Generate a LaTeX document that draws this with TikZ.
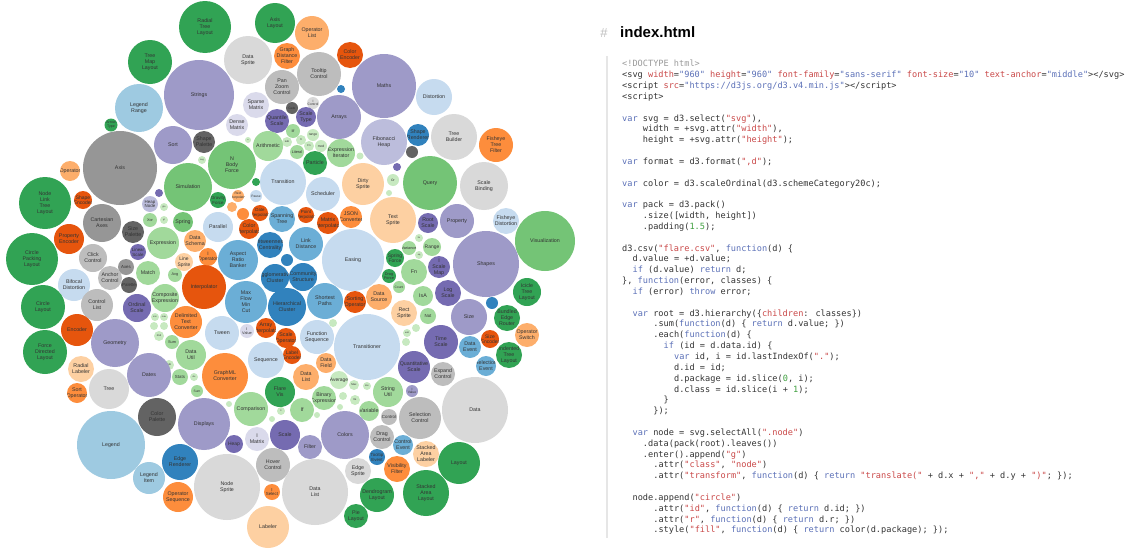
\documentclass[tikz,border=0pt]{standalone}
\usepackage{fontspec}
\setmainfont{Liberation Sans}
\newfontfamily\codefamily{DejaVu Sans Mono}

% d3 category20c palette
\definecolor{blu1}{HTML}{3182BD}
\definecolor{blu2}{HTML}{6BAED6}
\definecolor{blu3}{HTML}{9ECAE1}
\definecolor{blu4}{HTML}{C6DBEF}
\definecolor{org1}{HTML}{E6550D}
\definecolor{org2}{HTML}{FD8D3C}
\definecolor{org3}{HTML}{FDAE6B}
\definecolor{org4}{HTML}{FDD0A2}
\definecolor{grn1}{HTML}{31A354}
\definecolor{grn2}{HTML}{74C476}
\definecolor{grn3}{HTML}{A1D99B}
\definecolor{grn4}{HTML}{C7E9C0}
\definecolor{pur1}{HTML}{756BB1}
\definecolor{pur2}{HTML}{9E9AC8}
\definecolor{pur3}{HTML}{BCBDDC}
\definecolor{pur4}{HTML}{DADAEB}
\definecolor{gry1}{HTML}{636363}
\definecolor{gry2}{HTML}{969696}
\definecolor{gry3}{HTML}{BDBDBD}
\definecolor{gry4}{HTML}{D9D9D9}
\definecolor{labeltext}{HTML}{333333}
\definecolor{codetext}{HTML}{333333}
\definecolor{kwcol}{HTML}{5B70B7}
\definecolor{strcol}{HTML}{C94848}
\definecolor{numcol}{HTML}{3F9F3F}
\definecolor{gracol}{HTML}{999999}
\definecolor{rulecol}{HTML}{E6E6E6}

\newcommand\codesize{\codefamily\fontsize{8.6}{10.8}\selectfont}
\newcommand\cdkw[1]{\textcolor{kwcol}{#1}}
\newcommand\cdst[1]{\textcolor{strcol}{#1}}
\newcommand\cdnm[1]{\textcolor{numcol}{#1}}
\newcommand\cdav[1]{\textcolor{kwcol}{#1}}
\newcommand\cdgr[1]{\textcolor{gracol}{#1}}

\tikzset{
  bub/.style={circle,inner sep=0pt,outer sep=0pt,draw=none},
  lbl/.style={inner sep=0pt,align=center,text=labeltext,
              font=\fontsize{\lblsz pt}{\lblsk pt}\selectfont},
  codeline/.style={anchor=base west,inner sep=0pt,text=codetext,font=\codesize},
}

% one packed circle: name, x, y, radius, fill, label (clipped to the circle,
% smaller type in the smallest circles)
\newcommand\bub[6]{%
  \pgfmathsetmacro\lblsz{min(5.3,0.55*#4)}%
  \pgfmathsetmacro\lblsk{1.12*\lblsz}%
  \node[bub,fill=#5,minimum size={2*#4},
        path picture={\node[lbl] (#1-t) at (path picture bounding box.center) {#6};}]
        (#1) at (#2,#3) {};}
% one line of the listing: name, indent (characters), line number, content
\newcommand\codeln[4]{\node[codeline] (#1) at ({622+#2*5.19},{66.8+#3*10.84}) {#4};}

\begin{document}
\begin{tikzpicture}[x=1pt,y=-1pt]
\useasboundingbox (0,0) rectangle (1135,549);

% ---------------- bubble chart ----------------
\bub{radial}{205}{27}{26}{grn1}{Radial\\Tree\\Layout}
\bub{treemap}{150}{62}{22}{grn1}{Tree\\Map\\Layout}
\bub{axislayout}{275}{23}{20}{grn1}{Axis\\Layout}
\bub{oplist}{312}{33}{17}{org3}{Operator\\List}
\bub{datasprite}{248}{60}{24}{gry4}{Data\\Sprite}
\bub{graphdist}{287}{56}{13}{org2}{Graph\\Distance\\Filter}
\bub{colorenc}{350}{55}{13}{org1}{Color\\Encoder}
\bub{tooltipctl}{319}{74}{22}{gry3}{Tooltip\\Control}
\bub{maths}{384}{86}{32}{pur2}{Maths}
\bub{distortion}{434}{97}{18}{blu4}{Distortion}
\bub{strings}{199}{95}{35}{pur2}{Strings}
\bub{legendrange}{139}{108}{24}{blu3}{Legend\\Range}
\bub{panzoom}{282}{87}{17}{gry3}{Pan\\Zoom\\Control}
\bub{sparse}{256}{105}{13}{pur4}{Sparse\\Matrix}
\bub{dense}{237}{125}{11}{pur4}{Dense\\Matrix}
\bub{sm01}{341}{89}{4}{blu1}{}
\bub{icontrol}{313}{103}{6}{gry4}{I\\Control}
\bub{sm02}{292}{108}{6}{gry1}{Gate}
\bub{arrays}{339}{117}{22}{pur2}{Arrays}
\bub{quantile}{277}{121}{12}{pur1}{Quantile\\Scale}
\bub{scaletype}{306}{117}{10}{pur1}{Scale\\Type}
\bub{fibheap}{384}{142}{23}{pur3}{Fibonacci\\Heap}
\bub{shaperend}{418}{135}{11}{blu1}{Shape\\Renderer}
\bub{treebuilder}{454}{137}{23}{gry4}{Tree\\Builder}
\bub{fisheyetree}{496}{145}{17}{org2}{Fisheye\\Tree\\Filter}
\bub{sm03}{412}{152}{6}{gry1}{}
\bub{sm04}{397}{167}{4}{pur1}{}
\bub{exprit}{341}{153}{14}{grn3}{Expression\\Iterator}
\bub{particle}{315}{163}{12}{grn1}{Particle}
\bub{literal}{297}{152}{7}{grn3}{Literal}
\bub{iff}{293}{131}{7}{grn3}{Iif}
\bub{range2}{313}{135}{6}{grn4}{range}
\bub{sub1}{287}{142}{5}{grn4}{sub}
\bub{lt1}{301}{140}{5}{grn4}{lt}
\bub{fn1}{309}{146}{5}{grn4}{Fn}
\bub{mod1}{321}{146}{6}{grn4}{mod}
\bub{sm05}{360}{156}{3.5}{grn4}{}
\bub{arith}{268}{146}{15}{grn3}{Arithmetic}
\bub{nbody}{232}{165}{24}{grn2}{N\\Body\\Force}
\bub{axis}{120}{168}{37}{gry2}{Axis}
\bub{sort}{173}{145}{19}{pur2}{Sort}
\bub{shapepal}{204}{142}{11}{gry1}{Shape\\Palette}
\bub{arrowtype}{111}{125}{6.5}{grn1}{Arrow\\Type}
\bub{operator}{70}{171}{10}{org3}{Operator}
\bub{neg}{202}{160}{4}{grn4}{neg}
\bub{or1}{248}{140}{3}{grn4}{or}
\bub{simulation}{188}{187}{24}{grn2}{Simulation}
\bub{transition}{283}{182}{23}{blu4}{Transition}
\bub{scheduler}{323}{194}{17}{blu4}{Scheduler}
\bub{dirty}{363}{184}{21}{org4}{Dirty\\Sprite}
\bub{or2}{393}{180}{6}{grn4}{Or}
\bub{sm06}{389}{193}{3}{grn4}{}
\bub{query}{430}{183}{27}{grn2}{Query}
\bub{scalebinding}{484}{186}{24}{gry4}{Scale\\Binding}
\bub{textsprite}{393}{220}{23}{org4}{Text\\Sprite}
\bub{rootscale}{428}{223}{10}{pur1}{Root\\Scale}
\bub{property}{457}{221}{17}{pur2}{Property}
\bub{fisheyedist}{506}{221}{13}{blu4}{Fisheye\\Distortion}
\bub{visualization}{545}{241}{30}{grn2}{Visualization}
\bub{jsonconv}{351}{217}{11}{org2}{JSON\\Converter}
\bub{matrixinterp}{328}{223}{11}{org1}{Matrix\\Interpolator}
\bub{pointinterp}{306}{215}{8}{org1}{Point\\Interpolator}
\bub{spanning}{282}{219}{13}{blu2}{Spanning\\Tree}
\bub{colorinterp}{249}{229}{10}{org1}{Color\\Interpolator}
\bub{dateinterp}{260}{213}{8}{org1}{Date\\Interpolator}
\bub{sm07}{243}{214}{6}{org2}{}
\bub{gravity}{218}{200}{8}{grn1}{Gravity\\Force}
\bub{rectinterp}{238}{196}{6}{org3}{Rect\\Interpolator}
\bub{sm08}{232}{207}{5}{org3}{}
\bub{pause}{256}{196}{6}{blu4}{Pause}
\bub{sm09}{256}{182}{4}{grn1}{}
\bub{heapnode}{150}{204}{8}{pur3}{Heap\\Node}
\bub{sm10}{159}{193}{4}{pur1}{}
\bub{gte}{164}{207}{4}{grn4}{gte}
\bub{xor}{150}{220}{7}{grn3}{Xor}
\bub{gt}{164}{220}{4}{grn4}{gt}
\bub{spring}{183}{222}{10}{grn2}{Spring}
\bub{expression}{163}{243}{16}{grn3}{Expression}
\bub{dataschema}{195}{241}{11}{org3}{Data\\Schema}
\bub{ioperator}{208}{257}{9}{org2}{I\\Operator}
\bub{linesprite}{184}{262}{9}{org4}{Line\\Sprite}
\bub{match}{148}{273}{12}{grn3}{Match}
\bub{avg}{175}{275}{7}{grn3}{Avg}
\bub{parallel}{218}{227}{15}{blu4}{Parallel}
\bub{aspect}{238}{260}{20}{blu2}{Aspect\\Ratio\\Banker}
\bub{betweenness}{270}{245}{13}{blu1}{Betweenness\\Centrality}
\bub{linkdist}{306}{244}{17}{blu2}{Link\\Distance}
\bub{easing}{353}{260}{31}{blu4}{Easing}
\bub{sm11}{287}{260}{6}{blu1}{}
\bub{aggl}{275}{278}{14}{blu1}{Agglomerative\\Cluster}
\bub{community}{303}{277}{14}{blu1}{Community\\Structure}
\bub{springforce}{395}{258}{9}{grn1}{Spring\\Force}
\bub{dragforce}{389}{276}{7}{grn1}{Drag\\Force}
\bub{variance}{409}{248}{7}{grn3}{Variance}
\bub{range}{432}{247}{9}{grn3}{Range}
\bub{lte}{419}{238}{4}{grn4}{lte}
\bub{eq}{419}{255}{4}{grn4}{eq}
\bub{fn}{414}{272}{13}{grn3}{Fn}
\bub{count}{399}{287}{6}{grn3}{Count}
\bub{iscalemap}{439}{267}{11}{pur1}{I\\Scale\\Map}
\bub{shapes}{486}{264}{33}{pur2}{Shapes}
\bub{logscale}{448}{293}{13}{pur1}{Log\\Scale}
\bub{isa}{423}{296}{10}{grn3}{IsA}
\bub{datasource}{379}{297}{13}{org3}{Data\\Source}
\bub{shortest}{325}{301}{18}{blu2}{Shortest\\Paths}
\bub{hier}{287}{307}{19}{blu1}{Hierarchical\\Cluster}
\bub{sortingop}{355}{302}{11}{org1}{Sorting\\Operator}
\bub{rectsprite}{404}{313}{13}{org4}{Rect\\Sprite}
\bub{not}{428}{316}{8}{grn3}{Not}
\bub{size}{469}{317}{18}{pur2}{Size}
\bub{icicle}{527}{292}{14}{grn1}{Icicle\\Tree\\Layout}
\bub{sm12}{492}{303}{6}{blu1}{}
\bub{bundled}{507}{318}{13}{grn1}{Bundled\\Edge\\Router}
\bub{sizeenc}{490}{339}{9}{org1}{Size\\Encoder}
\bub{opswitch}{527}{335}{12}{org3}{Operator\\Switch}
\bub{timescale}{441}{342}{17}{pur1}{Time\\Scale}
\bub{dataevent}{470}{347}{11}{blu2}{Data\\Event}
\bub{indented}{509}{355}{13}{grn1}{Indented\\Tree\\Layout}
\bub{transitioner}{367}{347}{33}{blu4}{Transitioner}
\bub{funcseq}{317}{337}{17}{blu4}{Function\\Sequence}
\bub{sm13}{333}{323}{4}{grn4}{}
\bub{scaleop}{286}{338}{10}{org1}{Scale\\Operator}
\bub{add}{407}{333}{4}{grn4}{add}
\bub{sm14}{416}{328}{4}{grn4}{}
\bub{sm15}{406}{342}{4}{grn4}{}
\bub{quantitative}{414}{367}{16}{pur1}{Quantitative\\Scale}
\bub{expandctl}{443}{374}{12}{gry3}{Expand\\Control}
\bub{selevent}{486}{366}{10}{blu2}{Selection\\Event}
\bub{data}{475}{410}{33}{gry4}{Data}
\bub{selctl}{420}{418}{21}{gry3}{Selection\\Control}
\bub{stringutil}{388}{392}{15}{grn3}{String\\Util}
\bub{ivalue}{412}{391}{6}{pur2}{I\\Value}
\bub{control}{389}{417}{8}{gry3}{Control}
\bub{variable}{369}{411}{10}{grn3}{Variable}
\bub{dragctl}{382}{437}{12}{gry3}{Drag\\Control}
\bub{colors}{345}{435}{24}{pur2}{Colors}
\bub{scale}{285}{435}{15}{pur1}{Scale}
\bub{filter}{310}{447}{12}{pur2}{Filter}
\bub{binexpr}{324}{398}{12}{grn3}{Binary\\Expression}
\bub{if}{302}{410}{12}{grn3}{If}
\bub{datalistsm}{306}{377}{13}{org3}{Data\\List}
\bub{datafield}{326}{363}{10}{org3}{Data\\Field}
\bub{labelenc}{292}{355}{9}{org1}{Label\\Encoder}
\bub{flarevis}{280}{392}{15}{grn1}{Flare\\Vis}
\bub{average}{339}{380}{9}{grn4}{Average}
\bub{max}{354}{385}{5}{grn4}{Max}
\bub{min}{367}{386}{4}{grn4}{Min}
\bub{sm16}{343}{396}{4}{grn4}{}
\bub{sm17}{355}{400}{5}{grn4}{lte}
\bub{sm18}{340}{407}{3}{grn4}{}
\bub{lt2}{281}{411}{4}{grn4}{lt}
\bub{sm19}{317}{415}{3}{grn4}{}
\bub{hover}{273}{465}{17}{gry3}{Hover\\Control}
\bub{datalist}{315}{492}{33}{gry4}{Data\\List}
\bub{edgesprite}{358}{471}{13}{gry4}{Edge\\Sprite}
\bub{tooltipevent}{377}{457}{8}{blu1}{Tooltip\\Event}
\bub{ctlevent}{403}{445}{10}{blu2}{Control\\Event}
\bub{visfilter}{397}{469}{13}{org2}{Visibility\\Filter}
\bub{stackedlabeler}{426}{454}{13}{org4}{Stacked\\Area\\Labeler}
\bub{layout}{459}{463}{21}{grn1}{Layout}
\bub{stackedlayout}{426}{493}{23}{grn1}{Stacked\\Area\\Layout}
\bub{dendro}{377}{495}{17}{grn1}{Dendrogram\\Layout}
\bub{pielayout}{356}{516}{12}{grn1}{Pie\\Layout}
\bub{iselect}{272}{492}{8}{org2}{I\\Select}
\bub{labeler}{268}{527}{21}{org4}{Labeler}
\bub{nodesprite}{227}{487}{33}{gry4}{Node\\Sprite}
\bub{displays}{204}{424}{26}{pur2}{Displays}
\bub{heap}{234}{444}{9}{pur1}{Heap}
\bub{imatrix}{257}{439}{12}{pur4}{I\\Matrix}
\bub{comparison}{251}{409}{17}{grn3}{Comparison}
\bub{sm20}{272}{419}{3}{grn4}{}
\bub{sm21}{229}{404}{3}{grn4}{}
\bub{graphml}{225}{376}{23}{org2}{GraphML\\Converter}
\bub{sequence}{266}{360}{18}{blu4}{Sequence}
\bub{datautil}{191}{355}{15}{grn3}{Data\\Util}
\bub{stats}{180}{377}{8}{grn3}{Stats}
\bub{div}{194}{377}{4}{grn4}{div}
\bub{sum}{197}{391}{6}{grn3}{Sum}
\bub{sub2}{169}{365}{5}{grn4}{sub}
\bub{dates}{149}{375}{22}{pur2}{Dates}
\bub{geometry}{115}{343}{24}{pur2}{Geometry}
\bub{colorpalette}{157}{417}{19}{gry1}{Color\\Palette}
\bub{legend}{111}{445}{34}{blu3}{Legend}
\bub{tree}{109}{389}{20}{gry4}{Tree}
\bub{radiallabeler}{81}{369}{13}{org4}{Radial\\Labeler}
\bub{sortop}{77}{393}{10}{org2}{Sort\\Operator}
\bub{forcedirected}{45}{352}{22}{grn1}{Force\\Directed\\Layout}
\bub{legenditem}{149}{478}{16}{blu3}{Legend\\Item}
\bub{edgerenderer}{180}{462}{18}{blu1}{Edge\\Renderer}
\bub{opseq}{178}{497}{15}{org2}{Operator\\Sequence}
\bub{nodelinktree}{45}{203}{26}{grn1}{Node\\Link\\Tree\\Layout}
\bub{shapeenc}{83}{200}{9}{org1}{Shape\\Encoder}
\bub{cartesian}{102}{223}{19}{gry2}{Cartesian\\Axes}
\bub{sizepalette}{133}{232}{11}{gry1}{Size\\Palette}
\bub{propertyenc}{69}{239}{15}{org1}{Property\\Encoder}
\bub{circlepacking}{32}{259}{26}{grn1}{Circle\\Packing\\Layout}
\bub{clickctl}{93}{258}{14}{gry3}{Click\\Control}
\bub{linearscale}{138}{252}{8}{pur1}{Linear\\Scale}
\bub{axes}{126}{267}{8}{gry2}{Axes}
\bub{anchorctl}{110}{278}{12}{gry3}{Anchor\\Control}
\bub{bifocal}{74}{285}{16}{blu4}{Bifocal\\Distortion}
\bub{palette}{129}{285}{8}{gry1}{Palette}
\bub{composite}{165}{298}{14}{grn3}{Composite\\Expression}
\bub{interpolator}{204}{287}{22}{org1}{Interpolator}
\bub{maxflow}{246}{302}{21}{blu2}{Max\\Flow\\Min\\Cut}
\bub{circlelayout}{43}{307}{22}{grn1}{Circle\\Layout}
\bub{controllist}{97}{305}{16}{gry3}{Control\\List}
\bub{ordinalscale}{137}{308}{14}{pur1}{Ordinal\\Scale}
\bub{delimited}{186}{322}{16}{org2}{Delimited\\Text\\Converter}
\bub{tween}{222}{333}{17}{blu4}{Tween}
\bub{ievaluable}{247}{331}{7}{pur4}{I\\Value}
\bub{arrayinterp}{266}{328}{10}{org1}{Array\\Interpolator}
\bub{encoder}{77}{330}{16}{org1}{Encoder}
\bub{min2}{155}{317}{4}{grn4}{min}
\bub{max2}{164}{317}{4}{grn4}{max}
\bub{sm22}{154}{326}{4}{grn4}{}
\bub{sm23}{164}{326}{4}{grn4}{}
\bub{mul}{159}{336}{5}{grn4}{mul}
\bub{sum2}{172}{342}{7}{grn3}{Sum}

% ---------------- listing ----------------
\node[text=gry3,font=\fontsize{13}{13}\selectfont,anchor=base,inner sep=0pt] (hash) at (604,37) {\#};
\node[text=black,font=\bfseries\fontsize{15}{15}\selectfont,anchor=base west,inner sep=0pt] (title) at (620,37) {index.html};
\coordinate (ruletop) at (607,56);
\coordinate (rulebot) at (607,538);
\draw[rulecol,line width=2pt] (ruletop) -- (rulebot);

\codeln{l00}{0}{0}{\cdgr{<!DOCTYPE html>}}
\codeln{l01}{0}{1}{<svg \cdst{width}=\cdav{"960"} \cdst{height}=\cdav{"960"} \cdst{font-family}=\cdav{"sans-serif"} \cdst{font-size}=\cdav{"10"} \cdst{text-anchor}=\cdav{"middle"}></svg>}
\codeln{l02}{0}{2}{<script \cdst{src}=\cdav{"https://d3js.org/d3.v4.min.js"}></script>}
\codeln{l03}{0}{3}{<script>}
\codeln{l05}{0}{5}{\cdkw{var} svg = d3.select(\cdst{"svg"}),}
\codeln{l06}{4}{6}{width = +svg.attr(\cdst{"width"}),}
\codeln{l07}{4}{7}{height = +svg.attr(\cdst{"height"});}
\codeln{l09}{0}{9}{\cdkw{var} format = d3.format(\cdst{",d"});}
\codeln{l11}{0}{11}{\cdkw{var} color = d3.scaleOrdinal(d3.schemeCategory20c);}
\codeln{l13}{0}{13}{\cdkw{var} pack = d3.pack()}
\codeln{l14}{4}{14}{.size([width, height])}
\codeln{l15}{4}{15}{.padding(\cdnm{1.5});}
\codeln{l17}{0}{17}{d3.csv(\cdst{"flare.csv"}, \cdkw{function}(d) \{}
\codeln{l18}{2}{18}{d.value = +d.value;}
\codeln{l19}{2}{19}{\cdkw{if} (d.value) \cdkw{return} d;}
\codeln{l20}{0}{20}{\}, \cdkw{function}(error, classes) \{}
\codeln{l21}{2}{21}{\cdkw{if} (error) \cdkw{throw} error;}
\codeln{l23}{2}{23}{\cdkw{var} root = d3.hierarchy(\{\cdst{children}: classes\})}
\codeln{l24}{6}{24}{.sum(\cdkw{function}(d) \{ \cdkw{return} d.value; \})}
\codeln{l25}{6}{25}{.each(\cdkw{function}(d) \{}
\codeln{l26}{8}{26}{\cdkw{if} (id = d.data.id) \{}
\codeln{l27}{10}{27}{\cdkw{var} id, i = id.lastIndexOf(\cdst{"."});}
\codeln{l28}{10}{28}{d.id = id;}
\codeln{l29}{10}{29}{d.package = id.slice(\cdnm{0}, i);}
\codeln{l30}{10}{30}{d.class = id.slice(i + \cdnm{1});}
\codeln{l31}{8}{31}{\}}
\codeln{l32}{6}{32}{\});}
\codeln{l34}{2}{34}{\cdkw{var} node = svg.selectAll(\cdst{".node"})}
\codeln{l35}{4}{35}{.data(pack(root).leaves())}
\codeln{l36}{4}{36}{.enter().append(\cdst{"g"})}
\codeln{l37}{6}{37}{.attr(\cdst{"class"}, \cdst{"node"})}
\codeln{l38}{6}{38}{.attr(\cdst{"transform"}, \cdkw{function}(d) \{ \cdkw{return} \cdst{"translate("} + d.x + \cdst{","} + d.y + \cdst{")"}; \});}
\codeln{l40}{2}{40}{node.append(\cdst{"circle"})}
\codeln{l41}{6}{41}{.attr(\cdst{"id"}, \cdkw{function}(d) \{ \cdkw{return} d.id; \})}
\codeln{l42}{6}{42}{.attr(\cdst{"r"}, \cdkw{function}(d) \{ \cdkw{return} d.r; \})}
\codeln{l43}{6}{43}{.style(\cdst{"fill"}, \cdkw{function}(d) \{ \cdkw{return} color(d.package); \});}
\end{tikzpicture}
\end{document}
